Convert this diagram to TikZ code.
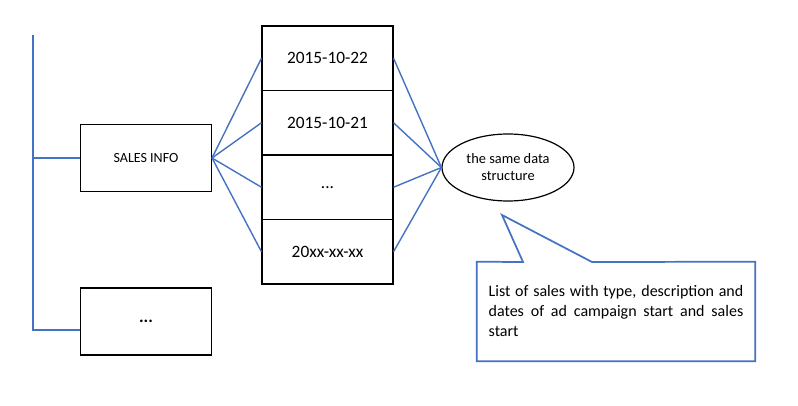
\documentclass[tikz,border=0pt]{standalone}
\usepackage{fontspec}
\setmainfont{Carlito}
\usetikzlibrary{shapes.geometric}
\definecolor{offblue}{HTML}{4472C4}
\begin{document}
\begin{tikzpicture}[x=0.75pt,y=-0.75pt,
  box/.style={draw=black,line width=0.8pt,minimum width=98.25pt,inner sep=0pt},
  cell/.style={box,minimum height=48.4pt,font=\fontsize{13}{15}\selectfont},
  link/.style={draw=offblue,line width=1.05pt},
  trunk/.style={draw=offblue,line width=1.5pt}]
\useasboundingbox (0,0) rectangle (798,406);
\node[box,minimum height=50.25pt,font=\fontsize{10.5}{12}\selectfont] (sales) at (146,158) {SALES INFO};
\node[box,minimum height=50.25pt,font=\fontsize{13}{15}\selectfont\bfseries] (dots) at (146,321.5) {...};
\node[cell] (d1) at (327.5,58.25) {2015-10-22};
\node[cell] (d2) at (327.5,122.75) {2015-10-21};
\node[cell] (d3) at (327.5,187.25) {...};
\node[cell] (d4) at (327.5,251.75) {20xx-xx-xx};
\node[draw=black,line width=0.9pt,ellipse,minimum width=99pt,minimum height=50.25pt,inner sep=0pt,align=center,font=\fontsize{10.8}{12.8}\selectfont] (ell) at (508,167.5) {the same data\\structure};
\coordinate (top) at (33,35);
\coordinate (bot) at (33,330);
\draw[trunk] (top) -- (bot) -- (bot -| dots.west);
\draw[trunk] (sales.west -| top) -- (sales.west);
\foreach \d in {d1,d2,d3,d4}{
  \draw[link] (sales.east) -- (\d.west);
  \draw[link] (\d.east) -- (ell.west);
}
\coordinate (tip) at (502,215);
\node[minimum width=208.5pt,minimum height=74.25pt,inner sep=0pt] (note) at (616,311.5) {};
\draw[draw=offblue,line width=1.3pt,line join=miter]
  (note.north west) -- (523,262) -- (tip) -- (592,262) -- (note.north east)
  -- (note.south east) -- (note.south west) -- cycle;
\node[text width=191pt,align=justify,inner sep=0pt,font=\fontsize{12}{15}\selectfont] (notetext) at (note.center) {List of sales with type, description and dates of ad campaign start and sales start};
\end{tikzpicture}
\end{document}
